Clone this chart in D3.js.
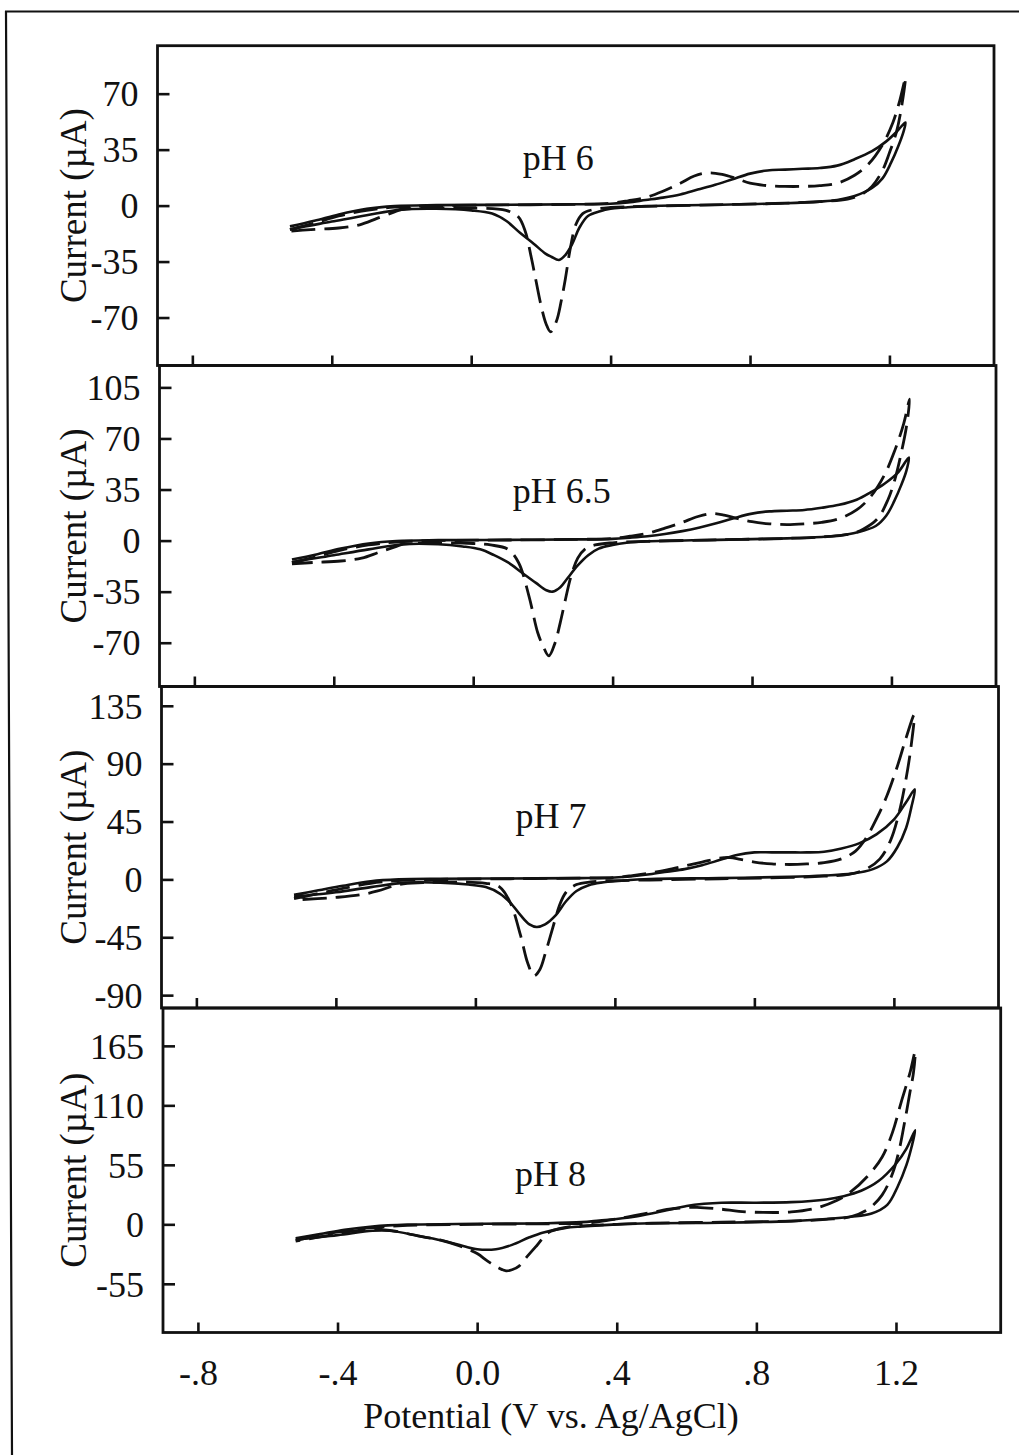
<!DOCTYPE html>
<html><head><meta charset="utf-8">
<script src="https://cdn.jsdelivr.net/npm/d3@7"></script>
<style>
body{margin:0;background:#fff}
svg{display:block}
text{font-family:"Liberation Serif","Times New Roman",serif;fill:#111}
</style>
</head><body><svg id="c" width="1019" height="1455"></svg>
<script>
// ---- data ----
const xTicks = [-0.8, -0.4, 0, 0.4, 0.8, 1.2];
const xTickLabels = ["-.8", "-.4", "0.0", ".4", ".8", "1.2"];
const xDomain = [-0.9, 1.5];
const phLabels = ["pH 6", "pH 6.5", "pH 7", "pH 8"];
const yMin = [-100, -100, -100, -100];
const yMax = [100, 120, 150, 200];
const yTicks = [
  [-70, -35, 0, 35, 70],
  [-70, -35, 0, 35, 70, 105],
  [-90, -45, 0, 45, 90, 135],
  [-55, 0, 55, 110, 165]
];
const labelAt = [[0.25, 22], [0.254, 26], [0.217, 40], [0.21, 35]];
const xTitle = "Potential (V vs. Ag/AgCl)";
const yTitle = "Current (\u00b5A)";

// [potential V, current uA], closed CV loops
const ph6Solid = [[-0.52,-13],[-0.45,-9.5],[-0.38,-5.5],[-0.3,-2],[-0.22,-0.3],[-0.1,0.3],[0.1,0.5],[0.3,0.8],[0.4,1.2],[0.45,2],[0.5,3.5],[0.55,5],[0.6,7],[0.65,10],[0.7,13],[0.75,16.5],[0.8,20],[0.85,22],[0.9,22.5],[0.95,23],[1.0,23.5],[1.05,25],[1.1,29],[1.15,34],[1.19,40],[1.22,46],[1.246,52],
  [1.24,46],[1.225,37],[1.205,27],[1.18,17],[1.15,11],[1.1,6],[1.05,3.5],[1.0,2.5],[0.9,1.5],[0.7,0.5],[0.5,-0.3],[0.44,-1.2],[0.4,-2],[0.37,-3.5],[0.335,-6.5],[0.31,-14],[0.29,-24],[0.27,-31],[0.252,-34],[0.23,-32],[0.213,-30],[0.18,-24],[0.14,-17],[0.1,-9.5],[0.06,-5],[0.0,-3],[-0.1,-2],[-0.2,-2.5],[-0.3,-6],[-0.4,-10],[-0.5,-14],[-0.52,-15]];
const ph6Dashed = [[-0.52,-15],[-0.45,-11],[-0.38,-6.5],[-0.3,-3],[-0.22,-1],[-0.1,0],[0.1,0.4],[0.3,0.8],[0.4,1.5],[0.45,3],[0.5,5],[0.55,9],[0.6,14],[0.64,18.5],[0.68,20.5],[0.72,19.5],[0.76,17],[0.8,14],[0.85,12.5],[0.9,12],[0.95,12],[1.0,12.5],[1.05,14],[1.1,19],[1.14,26],[1.18,38],[1.21,52],[1.23,66],[1.246,80],
  [1.235,62],[1.22,46],[1.2,33],[1.18,22],[1.15,12],[1.12,7],[1.08,4],[1.0,2.5],[0.9,1.5],[0.7,0.5],[0.5,-0.5],[0.4,-1.2],[0.35,-2.5],[0.32,-5],[0.3,-12],[0.285,-26],[0.27,-46],[0.258,-60],[0.245,-72],[0.228,-79],[0.215,-74],[0.2,-62],[0.185,-46],[0.172,-32],[0.155,-16],[0.135,-7],[0.1,-3],[0.0,-1.5],[-0.1,-1.5],[-0.2,-2.5],[-0.22,-4],[-0.27,-8],[-0.32,-12],[-0.38,-14],[-0.46,-15],[-0.52,-16]];

const ph65Solid = [[-0.52,-13],[-0.45,-9.5],[-0.38,-5.5],[-0.3,-2],[-0.22,-0.3],[-0.1,0.3],[0.1,0.5],[0.3,0.8],[0.4,1.2],[0.45,2],[0.5,3],[0.55,4.5],[0.6,6.5],[0.65,9],[0.7,12],[0.75,15.5],[0.8,18.5],[0.85,20],[0.9,20.5],[0.95,21],[1.0,22.5],[1.05,24.5],[1.1,28],[1.14,33],[1.18,39],[1.22,47],[1.25,57],
  [1.243,48],[1.228,38],[1.208,27],[1.185,17],[1.155,10],[1.1,5.5],[1.05,3.5],[1.0,2.5],[0.9,1.5],[0.7,0.5],[0.5,-0.5],[0.44,-1.5],[0.4,-3],[0.36,-5.5],[0.33,-10],[0.3,-17],[0.27,-26],[0.25,-32],[0.228,-35],[0.21,-34],[0.18,-29],[0.14,-22],[0.1,-15],[0.06,-10],[0.02,-6],[-0.03,-4],[-0.1,-2.5],[-0.2,-2.5],[-0.3,-6],[-0.4,-10],[-0.5,-14],[-0.52,-15]];
const ph65Dashed = [[-0.52,-15],[-0.45,-11],[-0.38,-6.5],[-0.3,-3],[-0.22,-1],[-0.1,0],[0.1,0.4],[0.3,0.8],[0.4,1.5],[0.45,3],[0.5,5],[0.55,8.5],[0.6,12.5],[0.645,16.5],[0.685,18.5],[0.72,17.5],[0.76,15],[0.8,13],[0.85,11.5],[0.9,11],[0.95,11.5],[1.0,12.5],[1.05,15],[1.1,21],[1.14,30],[1.18,45],[1.21,62],[1.235,80],[1.252,97],
  [1.243,78],[1.228,60],[1.21,42],[1.19,28],[1.16,15],[1.12,8],[1.08,4.5],[1.0,2.5],[0.9,1.5],[0.7,0.5],[0.5,-0.5],[0.4,-1.5],[0.35,-3],[0.32,-6],[0.3,-12],[0.28,-25],[0.265,-40],[0.25,-56],[0.235,-70],[0.217,-79],[0.2,-72],[0.185,-63],[0.16,-38],[0.13,-15],[0.1,-6],[0.05,-3],[0.0,-2],[-0.1,-1.5],[-0.2,-2.5],[-0.22,-4],[-0.27,-8],[-0.32,-12],[-0.38,-14],[-0.46,-15],[-0.52,-16]];

const ph7Solid = [[-0.52,-12],[-0.45,-8.5],[-0.38,-5],[-0.3,-1.5],[-0.22,0],[-0.1,0.5],[0.1,0.7],[0.3,1],[0.4,1.5],[0.45,2.5],[0.5,4],[0.55,6],[0.6,8],[0.65,11],[0.7,15],[0.75,19],[0.8,21],[0.85,21],[0.9,21],[0.95,21],[1.0,21.5],[1.05,24],[1.1,28],[1.15,35],[1.2,46.5],[1.235,60],[1.26,70],
  [1.25,56],[1.235,40],[1.21,25],[1.18,14],[1.14,8],[1.08,4.5],[1.0,3],[0.9,2],[0.7,1],[0.5,0.3],[0.42,-1],[0.36,-2.5],[0.325,-4.5],[0.29,-9],[0.26,-17],[0.23,-28],[0.2,-35],[0.176,-37],[0.155,-35],[0.13,-28],[0.1,-18],[0.07,-11],[0.03,-6],[-0.02,-4],[-0.1,-2.5],[-0.2,-2.5],[-0.3,-6],[-0.4,-10],[-0.52,-13.5]];
const ph7Dashed = [[-0.52,-15],[-0.45,-11],[-0.38,-7],[-0.3,-3],[-0.22,-1],[-0.1,0],[0.1,0.5],[0.3,1],[0.4,1.5],[0.45,3],[0.5,5],[0.55,7.5],[0.6,10.5],[0.65,13.5],[0.7,16.5],[0.73,17],[0.76,15.5],[0.8,13.5],[0.85,12],[0.9,11.6],[0.95,12],[1.0,13],[1.05,16],[1.09,22],[1.12,32],[1.15,47],[1.18,65],[1.21,88],[1.235,110],[1.258,128],
  [1.25,105],[1.236,80],[1.215,52],[1.19,30],[1.16,16],[1.12,8],[1.07,4],[1.0,2.5],[0.9,1.5],[0.7,0.5],[0.5,-0.5],[0.4,-1],[0.33,-2],[0.29,-4],[0.26,-10],[0.24,-21],[0.23,-30],[0.214,-45],[0.2,-58],[0.185,-70],[0.168,-75],[0.15,-65],[0.13,-44],[0.1,-18],[0.07,-6],[0.03,-3],[-0.05,-2],[-0.15,-2.5],[-0.22,-4],[-0.28,-9],[-0.33,-12],[-0.4,-14],[-0.52,-16]];

const ph8Solid = [[-0.52,-13],[-0.45,-9],[-0.38,-5],[-0.3,-2],[-0.2,-0.3],[0,0.5],[0.2,1],[0.3,2],[0.35,3.5],[0.4,5],[0.45,7],[0.5,10],[0.55,13.5],[0.6,17],[0.65,19],[0.7,20],[0.8,20],[0.9,20.5],[1.0,23],[1.05,26],[1.1,31],[1.15,40],[1.2,56],[1.23,70],[1.255,87],
  [1.245,72],[1.23,55],[1.205,35],[1.175,18],[1.13,10],[1.07,7],[1.0,5],[0.9,3],[0.7,1.5],[0.5,1],[0.4,0],[0.3,-2],[0.25,-3.5],[0.19,-7.5],[0.15,-12],[0.1,-19],[0.054,-23],[0.0,-23],[-0.04,-20],[-0.1,-15],[-0.17,-10.5],[-0.25,-6],[-0.3,-6],[-0.4,-10],[-0.52,-14]];
const ph8Dashed = [[-0.52,-15],[-0.45,-10],[-0.38,-6],[-0.3,-3],[-0.2,-1],[0,0],[0.2,0.5],[0.3,1],[0.35,2.5],[0.4,5],[0.45,8],[0.5,11],[0.55,14],[0.6,15.5],[0.63,15.6],[0.7,14],[0.75,12],[0.82,11],[0.9,11.5],[0.97,15],[1.03,22],[1.07,30],[1.12,45],[1.16,62],[1.19,85],[1.215,113],[1.24,140],[1.255,160],
  [1.25,140],[1.24,122],[1.225,95],[1.21,70],[1.19,47],[1.16,27],[1.12,14],[1.07,7],[1.0,4.6],[0.9,3],[0.7,2],[0.5,1],[0.4,0],[0.3,-1.5],[0.25,-3],[0.204,-7.7],[0.17,-20],[0.14,-31],[0.12,-38.6],[0.1,-42],[0.083,-43],[0.06,-40],[0.03,-34],[0.0,-27],[-0.05,-20],[-0.1,-15],[-0.17,-10.7],[-0.25,-5.5],[-0.3,-4.6],[-0.35,-6],[-0.42,-10],[-0.52,-15.5]];

const solidSeries = [ph6Solid, ph65Solid, ph7Solid, ph8Solid];
const dashedSeries = [ph6Dashed, ph65Dashed, ph7Dashed, ph8Dashed];

// ---- layout ----
const panels = [
  {x0:157.5, x1:994,   y0:45.7,  y1:365.5},
  {x0:159.5, x1:996,   y0:365.5, y1:686.5},
  {x0:161.5, x1:998.5, y0:686.5, y1:1008},
  {x0:163,   x1:1000.7,y0:1008,  y1:1332.5}
];
const FONT = 36;
const svg = d3.select("#c");

// outer frame
svg.append("path").attr("d","M5,11.5 L1019,11.5 M6,11 L12,1455")
  .attr("fill","none").attr("stroke","#111").attr("stroke-width",2.2);

panels.forEach((p, i) => {
  const x = d3.scaleLinear().domain(xDomain).range([p.x0, p.x1]);
  const y = d3.scaleLinear().domain([yMin[i], yMax[i]]).range([p.y1, p.y0]);
  const g = svg.append("g");

  const line = d3.line().x(d => x(d[0])).y(d => y(d[1])).curve(d3.curveCatmullRom.alpha(0.5));

  g.append("path").datum(solidSeries[i]).attr("d", line)
    .attr("fill","none").attr("stroke","#111").attr("stroke-width",2.6).attr("stroke-linejoin","round");
  g.append("path").datum(dashedSeries[i]).attr("d", line)
    .attr("fill","none").attr("stroke","#111").attr("stroke-width",2.8)
    .attr("stroke-dasharray","24,9");

  // box
  g.append("rect").attr("x",p.x0).attr("y",p.y0).attr("width",p.x1-p.x0).attr("height",p.y1-p.y0)
    .attr("fill","none").attr("stroke","#111").attr("stroke-width",2.8);

  // y axis
  const ya = g.append("g").attr("transform",`translate(${p.x0},0)`)
    .call(d3.axisLeft(y).tickValues(yTicks[i]).tickSize(-12).tickPadding(19).tickFormat(d => String(d)));
  ya.select(".domain").remove();
  ya.attr("font-family",null).attr("font-size",null);
  ya.selectAll("line").attr("stroke","#111").attr("stroke-width",2.6);
  ya.selectAll("text").style("font-size",FONT+"px").attr("fill","#111").attr("dy","0.34em");

  // x axis
  const xa = g.append("g").attr("transform",`translate(0,${p.y1})`)
    .call(d3.axisBottom(x).tickValues(xTicks).tickSize(-10).tickPadding(27)
      .tickFormat((d, j) => i === panels.length - 1 ? xTickLabels[j] : ""));
  xa.select(".domain").remove();
  xa.attr("font-family",null).attr("font-size",null);
  xa.selectAll("line").attr("stroke","#111").attr("stroke-width",2.6);
  xa.selectAll("text").style("font-size",FONT+"px").attr("fill","#111");

  // y title
  g.append("text").attr("transform",`translate(86,${(p.y0+p.y1)/2}) rotate(-90)`)
    .attr("text-anchor","middle").style("font-size","37px").text(yTitle);

  // pH label
  g.append("text").attr("x", x(labelAt[i][0])).attr("y", y(labelAt[i][1]))
    .attr("text-anchor","middle").style("font-size",FONT+"px").text(phLabels[i]);
});

svg.append("text").attr("x",551).attr("y",1428).attr("text-anchor","middle")
  .style("font-size",FONT+"px").text(xTitle);
</script>
</body></html>
